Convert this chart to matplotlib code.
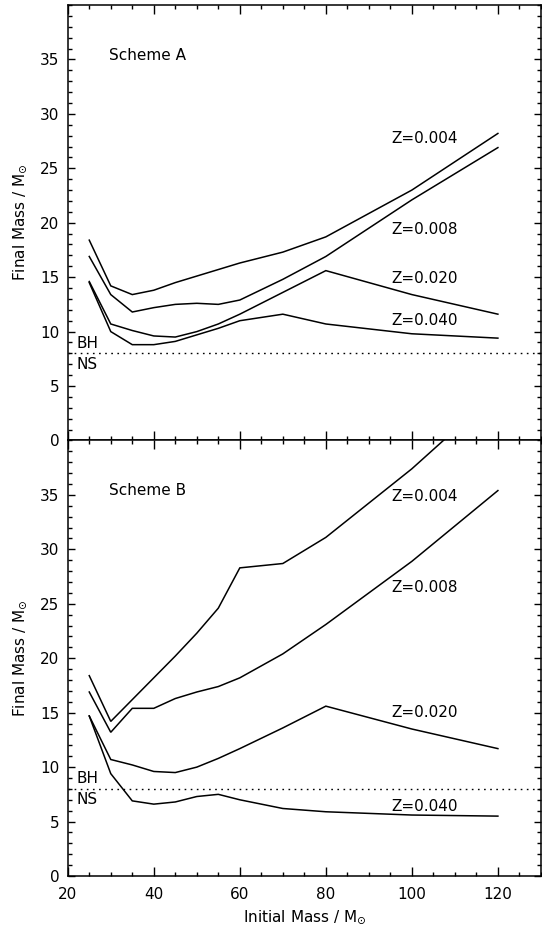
import numpy as np
import matplotlib
matplotlib.use('Agg')
import matplotlib.pyplot as plt

# Initial masses (solar masses)
initial_mass = [25, 30, 35, 40, 45, 50, 55, 60, 70, 80, 100, 120]

metallicities = ['Z=0.004', 'Z=0.008', 'Z=0.020', 'Z=0.040']

# Scheme A final masses
scheme_a_z004 = [18.4, 14.2, 13.4, 13.8, 14.5, 15.1, 15.7, 16.3, 17.3, 18.7, 23.0, 28.2]
scheme_a_z008 = [16.9, 13.4, 11.8, 12.2, 12.5, 12.6, 12.5, 12.9, 14.8, 16.9, 22.1, 26.9]
scheme_a_z020 = [14.6, 10.7, 10.1, 9.6, 9.5, 10.0, 10.7, 11.6, 13.6, 15.6, 13.4, 11.6]
scheme_a_z040 = [14.5, 10.0, 8.8, 8.8, 9.1, 9.7, 10.3, 11.0, 11.6, 10.7, 9.8, 9.4]

# Scheme B final masses
scheme_b_z004 = [18.4, 14.2, 16.2, 18.2, 20.2, 22.3, 24.6, 28.3, 28.7, 31.1, 37.4, 44.5]
scheme_b_z008 = [16.9, 13.2, 15.4, 15.4, 16.3, 16.9, 17.4, 18.2, 20.4, 23.1, 28.9, 35.4]
scheme_b_z020 = [14.7, 10.7, 10.2, 9.6, 9.5, 10.0, 10.8, 11.7, 13.6, 15.6, 13.5, 11.7]
scheme_b_z040 = [14.7, 9.4, 6.9, 6.6, 6.8, 7.3, 7.5, 7.0, 6.2, 5.9, 5.6, 5.5]

# BH / NS dividing mass
bh_ns_limit = 8

# Where the curve labels go (x, y in data units)
label_pos_a = [(95.2, 27.7), (95.2, 19.4), (95.2, 14.9), (95.2, 11.0)]
label_pos_b = [(95.2, 34.9), (95.2, 26.5), (95.2, 15.0), (95.2, 6.4)]

plt.rcParams['font.family'] = 'DejaVu Sans'
plt.rcParams['font.size'] = 11

fig, (ax_a, ax_b) = plt.subplots(2, 1, figsize=(5.42, 9.36), dpi=100, sharex=True)
fig.subplots_adjust(left=0.125, right=0.998, top=0.9947, bottom=0.0641, hspace=0)


def show_panel(ax, title, series, label_pos):
    for ydata in series:
        ax.plot(initial_mass, ydata, color='black', lw=1.1, solid_joinstyle='miter')

    for name, (lx, ly) in zip(metallicities, label_pos):
        ax.text(lx, ly, name, ha='left', va='center', fontsize=11)

    # BH / NS boundary
    ax.axhline(bh_ns_limit, color='black', lw=1.0, linestyle=(0, (1.2, 3.2)))
    ax.text(22.0, bh_ns_limit + 0.95, 'BH', ha='left', va='center', fontsize=11)
    ax.text(22.0, bh_ns_limit - 1.0, 'NS', ha='left', va='center', fontsize=11)

    ax.text(29.7, 35.4, title, ha='left', va='center', fontsize=11)

    ax.set_xlim(20, 130)
    ax.set_ylim(0, 40)
    ax.set_yticks(np.arange(0, 40, 5))
    ax.set_yticks(np.arange(0, 41, 1), minor=True)
    ax.set_xticks(np.arange(20, 121, 20))
    ax.set_xticks(np.arange(20, 131, 5), minor=True)
    ax.set_ylabel(r'Final Mass / M$_{\odot}$', labelpad=8)

    ax.tick_params(axis='both', which='both', direction='in', top=True, right=True, width=1.0)
    ax.tick_params(axis='y', which='major', length=5, pad=6)
    ax.tick_params(axis='y', which='minor', length=2.8)
    ax.tick_params(axis='x', which='major', length=6.5, pad=8)
    ax.tick_params(axis='x', which='minor', length=3.2)
    for spine in ax.spines.values():
        spine.set_linewidth(1.1)


show_panel(ax_a, 'Scheme A', [scheme_a_z004, scheme_a_z008, scheme_a_z020, scheme_a_z040], label_pos_a)
show_panel(ax_b, 'Scheme B', [scheme_b_z004, scheme_b_z008, scheme_b_z020, scheme_b_z040], label_pos_b)

ax_b.set_xlabel(r'Initial Mass / M$_{\odot}$', labelpad=4)

fig.savefig('out.png', dpi=100)
